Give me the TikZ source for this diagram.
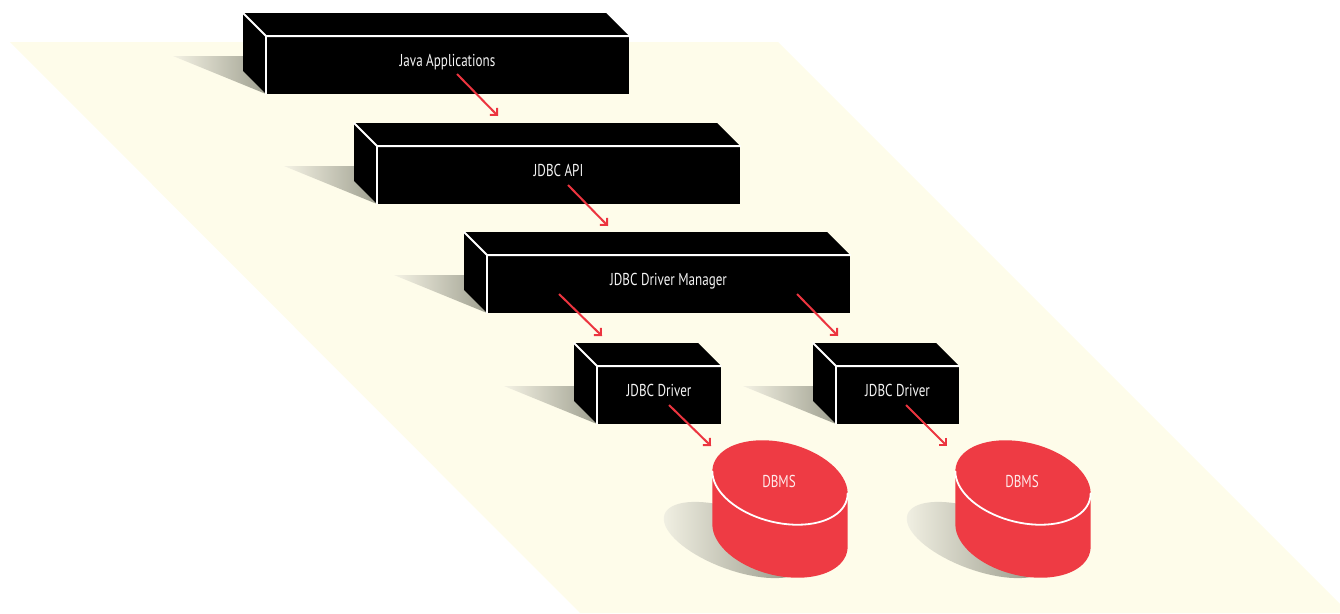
\documentclass[tikz,border=0pt]{standalone}
\usepackage{fontspec}
\newfontfamily\labelfont[FakeStretch=0.76]{PT Sans}
\usetikzlibrary{arrows.meta}

\definecolor{floorcream}{HTML}{FEFCEA}
\definecolor{dbred}{HTML}{EE3B44}
\definecolor{arrowred}{HTML}{EC3540}
\definecolor{shadelight}{HTML}{F4F2E4}
\definecolor{shadedark}{HTML}{9E9F8F}
\definecolor{drumshadelight}{HTML}{F0EFE2}
\definecolor{drumshadedark}{HTML}{919282}
\definecolor{inktext}{HTML}{F4F4F4}
\definecolor{dbtext}{HTML}{FFEBEB}

\tikzset{
  face/.style={fill=black, inner sep=0pt, outer sep=0pt, text=inktext,
    font=\labelfont\fontsize{17.2}{19}\selectfont, text height=12pt, text depth=10pt},
  side/.style={fill=black},
  rim/.style={draw=white, line width=2pt, line cap=round, line join=round},
  boxshadow/.style={left color=shadelight, right color=shadedark},
  drumshadow/.style={left color=drumshadelight, right color=drumshadedark},
  drumrim/.style={draw=white, line width=1.8pt, line cap=round},
  flow/.style={draw=arrowred, line width=2pt, -{Straight Barb[length=5pt,width=10pt]}},
  dblabel/.style={text=dbtext, inner sep=0pt, anchor=base,
    font=\labelfont\fontsize{17.2}{19}\selectfont},
}

% a black slab: front face from (#2,#3) to (#4,#5), receding 23pt up-left
\newcommand\slab[6]{%
  \shade[boxshadow] ({#2-93},{#3+20}) -- (#2,{#3+20}) -- (#2,#5) -- cycle;
  \node[face, minimum width={#4-#2}, minimum height={#5-#3}] (#1)
    at ({(#2+#4)/2},{(#3+#5)/2}) {#6};
  \fill[side] (#1.north west) -- ++(-23,-23)
    -- ([shift={(-23,-23)}]#1.north east) -- (#1.north east) -- cycle;
  \fill[side] (#1.north west) -- ++(-23,-23)
    -- ([shift={(-23,-23)}]#1.south west) -- (#1.south west) -- cycle;
  \draw[rim] ([shift={(-23,-23)}]#1.north west) -- (#1.north west) -- (#1.north east);
  \draw[rim] (#1.north west) -- (#1.south west);
}

% a red database drum whose top ellipse is centred on (#2,#3)
\newcommand\drum[3]{%
  \shade[drumshadow] plot[domain=0:360, samples=73, variable=\t]
    ({#2-45+70.48*cos(\t)-10.26*sin(\t)},{#3+57.5+25.65*cos(\t)+28.19*sin(\t)}) -- cycle;
  \fill[dbred] plot[domain=-8.23:171.77, samples=40, variable=\t]
      ({#2+66.95*cos(\t)-9.68*sin(\t)},{#3+16.69*cos(\t)+38.81*sin(\t)})
    -- plot[domain=-8.23:171.77, samples=40, variable=\t]
      ({#2+66.95*cos(163.54-\t)-9.68*sin(163.54-\t)},{#3+53+16.69*cos(163.54-\t)+38.81*sin(163.54-\t)})
    -- cycle;
  \fill[dbred] plot[domain=0:360, samples=73, variable=\t]
    ({#2+66.95*cos(\t)-9.68*sin(\t)},{#3+16.69*cos(\t)+38.81*sin(\t)}) -- cycle;
  \draw[drumrim] plot[domain=-8.23:171.77, samples=40, variable=\t]
    ({#2+66.95*cos(\t)-9.68*sin(\t)},{#3+16.69*cos(\t)+38.81*sin(\t)});
  \node[dblabel] (#1) at ({#2-1},{#3+5}) {DBMS};
}

\begin{document}
\begin{tikzpicture}[x=1pt, y=-1pt]
  \useasboundingbox (0,0) rectangle (1340,613);

  % the floor
  \fill[floorcream] (10,42) -- (778,42) -- (1340,604) -- (1340,613) -- (580,613) -- cycle;

  % the layers
  \slab{java}{266}{36}{629}{94}{Java Applications}
  \slab{api}{377}{146}{740}{204}{JDBC API}
  \slab{manager}{487}{255}{850}{313}{JDBC Driver Manager}
  \slab{driverA}{597}{366}{721}{424}{JDBC Driver}
  \slab{driverB}{836}{366}{959}{424}{JDBC Driver}

  % the databases
  \drum{dbA}{780}{482.5}
  \drum{dbB}{1023}{482.5}

  % arrow ends
  \coordinate (java-out) at (457,74);
  \coordinate (api-in) at (498,116);
  \coordinate (api-out) at (568,185);
  \coordinate (manager-in) at (608,226);
  \coordinate (manager-outA) at (559,294);
  \coordinate (driverA-in) at (602,336);
  \coordinate (manager-outB) at (797,294);
  \coordinate (driverB-in) at (838,336);
  \coordinate (driverA-out) at (669,405);
  \coordinate (dbA-in) at (711,446);
  \coordinate (driverB-out) at (906,405);
  \coordinate (dbB-in) at (947,446);

  \draw[flow] (java-out) -- (api-in);
  \draw[flow] (api-out) -- (manager-in);
  \draw[flow] (manager-outA) -- (driverA-in);
  \draw[flow] (manager-outB) -- (driverB-in);
  \draw[flow] (driverA-out) -- (dbA-in);
  \draw[flow] (driverB-out) -- (dbB-in);
\end{tikzpicture}
\end{document}
